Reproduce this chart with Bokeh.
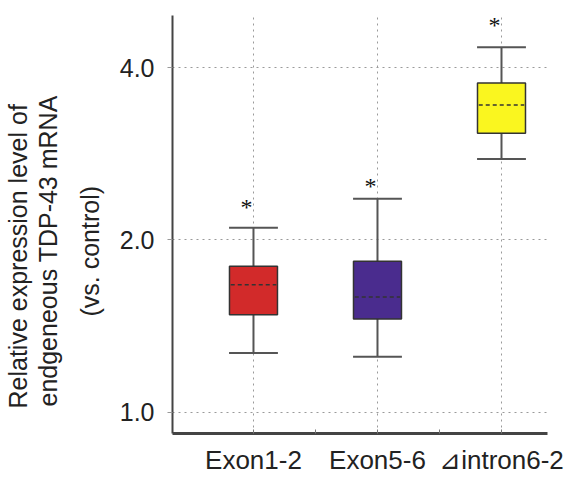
import numpy as np
from bokeh.plotting import figure
from bokeh.models import Range1d, FixedTicker, ColumnDataSource, LabelSet, PrintfTickFormatter, Title
from bokeh.embed import file_html
from bokeh.resources import INLINE

# ---- data ----
categories = ["Exon1-2", "Exon5-6", "\u22bfintron6-2"]
whisker_low = [1.27, 1.25, 2.77]
q1 = [1.48, 1.456, 3.07]
median = [1.67, 1.59, 3.44]
q3 = [1.80, 1.835, 3.76]
whisker_high = [2.10, 2.36, 4.34]
star_y = [2.30, 2.50, 4.78]
star_text = ["*", "*", "*"]
colors = ["#d22a2a", "#4a2c8e", "#faf61f"]
y_ticks = [1.0, 2.0, 4.0]
y_label_lines = ["Relative expression  level of", "endgeneous TDP-43 mRNA", "(vs. control)"]

FONT = "Liberation Sans"

x = np.arange(1, len(categories) + 1).astype(float)
box_w = 0.387
cap_hw = 0.197

src = ColumnDataSource(dict(
    x=x, lo=whisker_low, q1=q1, med=median, q3=q3, hi=whisker_high,
    star=star_y, star_text=star_text, color=colors,
    xl=x - cap_hw, xr=x + cap_hw, ml=x - box_w / 2 + 0.01, mr=x + box_w / 2 - 0.01,
))

p = figure(width=571, height=477, y_axis_type="log",
           x_range=Range1d(0.347, 3.371), y_range=Range1d(0.9186, 4.93),
           output_backend="svg", toolbar_location=None,
           min_border_left=172, min_border_right=24, min_border_top=15, min_border_bottom=40)
p.outline_line_color = None
p.background_fill_color = "white"
p.border_fill_color = "white"

# whisker stems
p.segment(x0="x", y0="q3", x1="x", y1="hi", source=src, line_color="#555555", line_width=2)
p.segment(x0="x", y0="lo", x1="x", y1="q1", source=src, line_color="#555555", line_width=2)
# caps
p.segment(x0="xl", y0="hi", x1="xr", y1="hi", source=src, line_color="#555555", line_width=2)
p.segment(x0="xl", y0="lo", x1="xr", y1="lo", source=src, line_color="#555555", line_width=2)
# boxes
p.vbar(x="x", width=box_w, bottom="q1", top="q3", source=src,
       fill_color="color", line_color="#333333", line_width=1.5)
# medians
p.segment(x0="ml", y0="med", x1="mr", y1="med", source=src,
          line_color="#333333", line_width=1.5, line_dash="4 3")

stars = LabelSet(x="x", y="star", text="star_text", source=src, x_offset=-7, y_offset=-2,
                 text_align="center", text_baseline="middle",
                 text_font_size="24px", text_font=FONT, text_color="#111111")
p.add_layout(stars)

# y axis
p.yaxis.ticker = FixedTicker(ticks=y_ticks)
p.yaxis.formatter = PrintfTickFormatter(format="%.1f")
p.yaxis.major_label_text_font = FONT
p.yaxis.major_label_text_font_size = "25px"
p.yaxis.major_label_text_color = "#222222"
p.yaxis.major_label_standoff = 13
p.yaxis.minor_tick_line_color = None
p.yaxis.major_tick_in = 0
p.yaxis.major_tick_out = 5
p.yaxis.major_tick_line_color = "#999999"
p.yaxis.axis_line_color = "#444444"
p.yaxis.axis_line_width = 2

# y-axis label: one title per line, innermost line first; each line starts
# at the frame bottom shifted upward by 'offset' so the three are centred together
standoffs = [0, 0, 25]
offsets = [25, 27, 117]
for line, so, off in reversed(list(zip(y_label_lines, standoffs, offsets))):
    p.add_layout(Title(text=line, align="left", offset=off, standoff=so,
                       text_font=FONT, text_font_size="25px", text_font_style="normal",
                       text_color="#222222"), "left")

# x axis
mids = list((x[:-1] + x[1:]) / 2)
p.xaxis.ticker = FixedTicker(ticks=list(x), minor_ticks=mids)
p.xaxis.major_label_overrides = {int(v): c for v, c in zip(x, categories)}
p.xaxis.major_label_text_font = FONT
p.xaxis.major_label_text_font_size = "26px"
p.xaxis.major_label_text_color = "#222222"
p.xaxis.major_label_standoff = 11
p.xaxis.major_tick_in = 4
p.xaxis.major_tick_out = 0
p.xaxis.minor_tick_in = 4
p.xaxis.minor_tick_out = 0
p.xaxis.major_tick_line_color = "#777777"
p.xaxis.minor_tick_line_color = "#777777"
p.xaxis.axis_line_color = "#444444"
p.xaxis.axis_line_width = 3

# grids
for g in (p.xgrid, p.ygrid):
    g.grid_line_color = "#9a9a9a"
    g.grid_line_dash = "2 4"
    g.grid_line_width = 1

open("out.html", "w").write(file_html(p, INLINE))
